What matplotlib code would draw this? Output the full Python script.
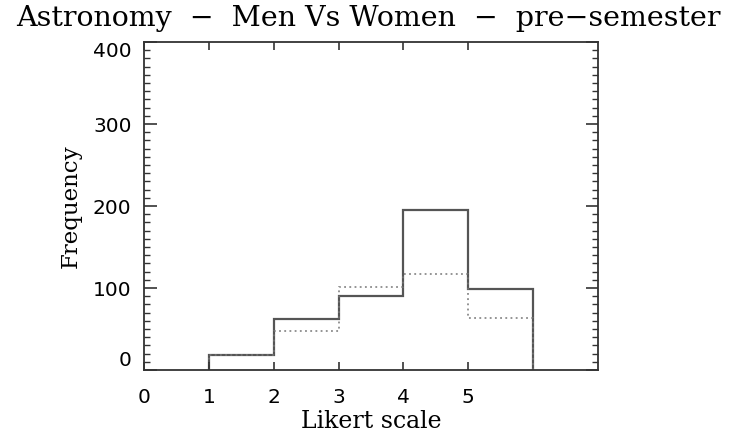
import matplotlib
matplotlib.use('Agg')
import matplotlib.pyplot as plt
from matplotlib.ticker import MultipleLocator
import numpy as np

# Datos (frecuencias por valor de Likert)
bordes = [1, 2, 3, 4, 5, 6]
hombres = [18, 62, 90, 195, 99]
mujeres = [18, 47, 101, 117, 63]
xticks = [0, 1, 2, 3, 4, 5]
xtick_labels = ['0', '1', '2', '3', '4', '5']
yticks = [0, 100, 200, 300, 400]

fig = plt.figure(figsize=(7.3, 4.4), dpi=100)
ax = fig.add_axes([0.1973, 0.159, 0.6219, 0.7455])

ax.stairs(hombres, bordes, color='#555555', lw=1.6, baseline=0)
ax.stairs(mujeres, bordes, color='#777777', lw=1.1, ls=(0, (1.2, 2.2)), baseline=0)

ax.set_xlim(0, 7)
ax.set_ylim(0, 400)
ax.set_xticks(xticks)
ax.set_xticklabels(xtick_labels)
ax.set_yticks(yticks)
ax.yaxis.set_minor_locator(MultipleLocator(10))

for s in ax.spines.values():
    s.set_linewidth(1.3)
    s.set_color('#333333')

ax.tick_params(which='both', direction='in', top=True, right=True, color='#333333')
ax.tick_params(axis='x', which='major', length=6, width=1.2, pad=13, labelsize=14.5)
ax.tick_params(axis='y', which='major', length=9, width=1.2, pad=9, labelsize=14.5)
ax.tick_params(axis='y', which='minor', length=4.5, width=1.0)

# estilo IDL: la primera etiqueta apoyada abajo y la ultima colgada arriba
ylabs = ax.get_yticklabels()
ylabs[0].set_va('bottom')
ylabs[-1].set_va('top')

ax.set_xlabel('Likert scale', family='DejaVu Serif', fontsize=17, labelpad=2)
ax.set_ylabel('Frequency', family='DejaVu Serif', fontsize=16.5, labelpad=8)
fig.text(368.5 / 730, 0.94, 'Astronomy  \u2212  Men Vs Women  \u2212  pre\u2212semester',
         family='DejaVu Serif', fontsize=20.5, ha='center', va='baseline')

fig.savefig('out.png', dpi=100)
